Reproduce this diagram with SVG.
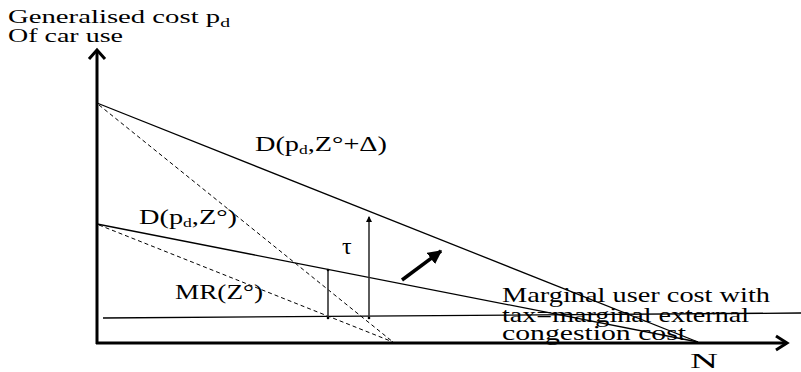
<svg xmlns="http://www.w3.org/2000/svg" width="801" height="372" viewBox="0 0 801 372">
<style>
text{font-family:"Liberation Serif","DejaVu Serif","Times New Roman",serif;fill:#000}
.t{font-size:21px}
.ttl{font-size:19px}
.sub{font-size:13px}
.ax{stroke:#000;stroke-width:3;fill:none}
.ln{stroke:#000;stroke-width:1.3;fill:none}
.ds{stroke:#000;stroke-width:1;fill:none;stroke-dasharray:4 3}
.vs{stroke:#333;stroke-width:1.6;fill:none}
</style>
<defs>
<marker id="small" viewBox="0 0 6 6" refX="5" refY="3" markerWidth="4" markerHeight="4" orient="auto">
<path d="M0,0 L6,3 L0,6 z" fill="#000"/>
</marker>
<marker id="bold" viewBox="0 0 10 10" refX="9" refY="5" markerWidth="4" markerHeight="4" orient="auto">
<path d="M0,0 L10,5 L0,10 z" fill="#000"/>
</marker>
</defs>
<rect width="801" height="372" fill="#fff"/>
<g id="axes">
<line class="ax" x1="97" y1="344" x2="97" y2="50"/>
<polyline class="ax" points="89,59 97,50 105,59"/>
<line class="ax" x1="96" y1="343" x2="787" y2="343"/>
<polyline class="ax" points="776,336 787,343 776,350"/>
</g>
<g id="connectors">
<line id="demand-upper" class="ln" x1="97" y1="103" x2="698" y2="342"/>
<line id="demand-lower" class="ln" x1="97" y1="224" x2="698" y2="342"/>
<line id="mr-upper" class="ds" x1="99" y1="105" x2="393" y2="342"/>
<line id="mr-lower" class="ds" x1="99" y1="225" x2="393" y2="342"/>
<line id="mc" class="ln" x1="103" y1="318" x2="801" y2="313"/>
<line class="vs" x1="328" y1="270" x2="328" y2="318"/>
<circle cx="328" cy="270" r="1.3"/><circle cx="328" cy="318" r="1.3"/>
<line class="vs" x1="369" y1="318" x2="369" y2="217" marker-end="url(#small)"/>
<circle cx="369" cy="318" r="1.3"/>
<line stroke="#000" stroke-width="3.5" x1="402" y1="280" x2="441" y2="251" marker-end="url(#bold)"/>
</g>
<g id="labels">
<text class="ttl" x="8" y="23" style="font-family:'Liberation Serif',serif" textLength="222" lengthAdjust="spacingAndGlyphs">Generalised cost p<tspan class="sub" dy="4">d</tspan></text>
<text class="ttl" x="8" y="42" style="font-family:'Liberation Serif',serif" textLength="115" lengthAdjust="spacingAndGlyphs">Of car use</text>
<text class="t" x="255" y="151" style="font-family:'Liberation Serif',serif" textLength="132" lengthAdjust="spacingAndGlyphs">D(p<tspan class="sub" dy="3">d</tspan><tspan dy="-3">,Z°+Δ)</tspan></text>
<text class="t" x="139" y="224" style="font-family:'Liberation Serif',serif" textLength="98" lengthAdjust="spacingAndGlyphs">D(p<tspan class="sub" dy="3">d</tspan><tspan dy="-3">,Z°)</tspan></text>
<text x="342" y="254" style="font-family:'Liberation Serif',serif;font-size:24px">τ</text>
<text class="t" x="175" y="299" style="font-family:'Liberation Serif',serif" textLength="88" lengthAdjust="spacingAndGlyphs">MR(Z°)</text>
<text class="t" x="502" y="302" style="font-family:'Liberation Serif',serif" textLength="268" lengthAdjust="spacingAndGlyphs">Marginal user cost with</text>
<text class="t" x="502" y="322" style="font-family:'Liberation Serif',serif" textLength="247" lengthAdjust="spacingAndGlyphs">tax=marginal external</text>
<text class="t" x="502" y="340" style="font-family:'Liberation Serif',serif" textLength="184" lengthAdjust="spacingAndGlyphs">congestion cost</text>
<text class="t" x="690" y="368" style="font-family:'Liberation Serif',serif" textLength="28" lengthAdjust="spacingAndGlyphs">N</text>
</g>
</svg>
